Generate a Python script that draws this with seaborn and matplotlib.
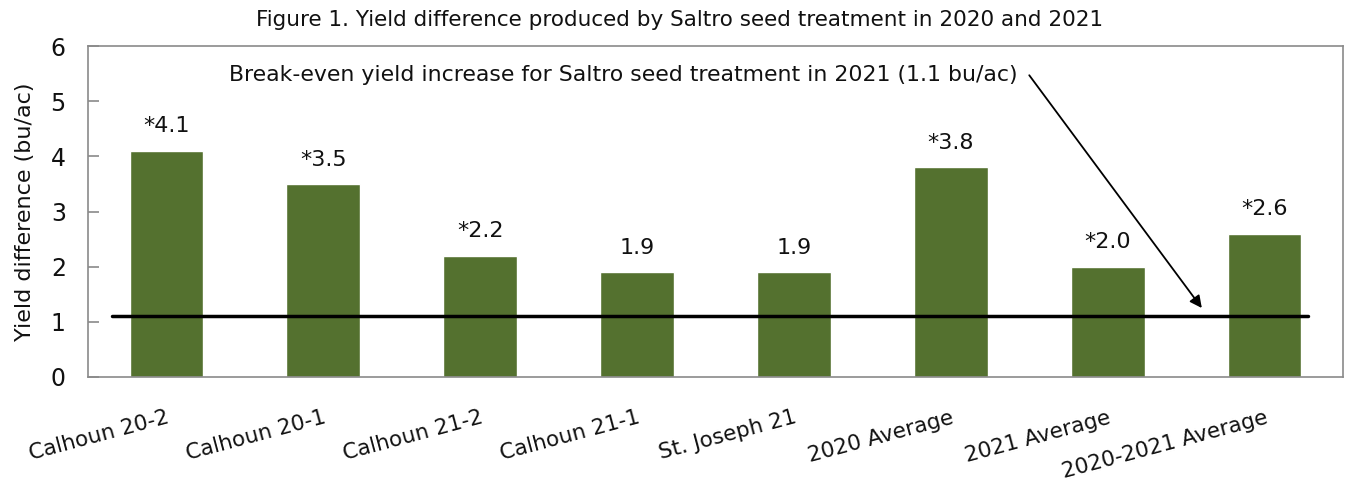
import matplotlib
matplotlib.use("Agg")
import matplotlib.pyplot as plt
import seaborn as sns
import pandas as pd

categories = ["Calhoun 20-2", "Calhoun 20-1", "Calhoun 21-2", "Calhoun 21-1",
              "St. Joseph 21", "2020 Average", "2021 Average", "2020-2021 Average"]
values = [4.1, 3.5, 2.2, 1.9, 1.9, 3.8, 2.0, 2.6]
bar_labels = ["*4.1", "*3.5", "*2.2", "1.9", "1.9", "*3.8", "*2.0", "*2.6"]
break_even = 1.1
title = "Figure 1. Yield difference produced by Saltro seed treatment in 2020 and 2021"
ylabel = "Yield difference (bu/ac)"
note = "Break-even yield increase for Saltro seed treatment in 2021 (1.1 bu/ac)"

sns.set_theme(style="white")
plt.rcParams['font.family'] = ['DejaVu Sans']

df = pd.DataFrame({"cat": categories, "val": values})

fig = plt.figure(figsize=(13.45, 4.8), dpi=100)
ax = fig.add_axes([88/1345, 1-377/480, (1343-88)/1345, (377-46)/480])

sns.barplot(data=df, x="cat", y="val", color="#54712F", saturation=1,
            width=0.47, ax=ax)

for i, (v, lab) in enumerate(zip(values, bar_labels)):
    ax.text(i, v + 0.26, lab, ha="center", va="bottom", fontsize=16, color="#111111")

ax.plot([-0.35, 7.28], [break_even, break_even], color="black", lw=2.5)

ax.text(0.40, 5.47, note, ha="left", va="center", fontsize=15.8, color="#111111")
ax.annotate("", xy=(6.60, 1.25), xytext=(5.50, 5.47),
            arrowprops=dict(arrowstyle="-|>", color="black", lw=1.3,
                            mutation_scale=18, shrinkA=0, shrinkB=0))

ax.set_ylim(0, 6)
ax.set_xlim(-0.5, 7.5)
ax.set_yticks(range(0, 7))
ax.set_xlabel("")
ax.set_ylabel(ylabel, fontsize=16, labelpad=11, color="#111111")
ax.tick_params(axis="y", labelsize=17, length=8, width=1.2, color="#8a8a8a",
               direction="in", left=True, pad=16, labelcolor="#111111")
ax.tick_params(axis="x", length=0, pad=22, labelcolor="#111111")
ax.set_xticks(range(len(categories)))
ax.set_xticklabels(categories, rotation=15, ha="right", rotation_mode="anchor",
                   fontsize=15.5)
for s in ax.spines.values():
    s.set_color("#8a8a8a")
    s.set_linewidth(1.2)

fig.text(680/1345, 1-20/480, title, ha="center", va="center", fontsize=15.5,
         color="#111111")

fig.savefig("out.png", dpi=100)
